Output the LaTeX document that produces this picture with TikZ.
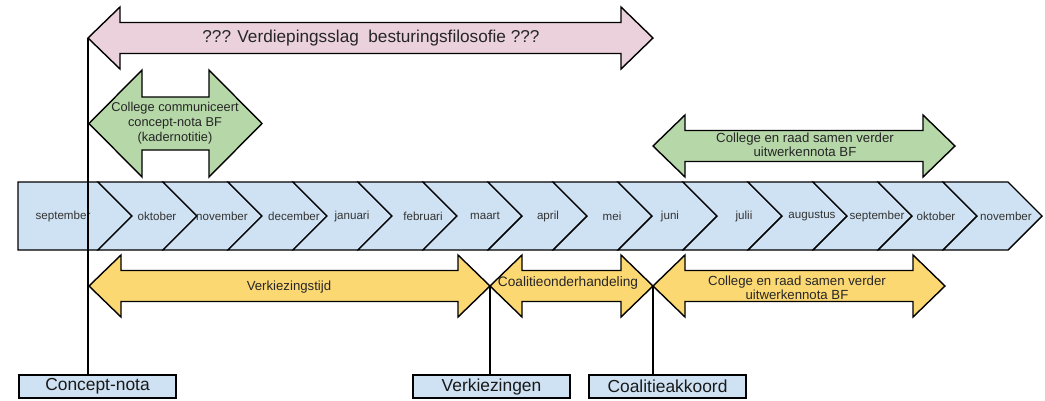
\documentclass[tikz,border=0pt]{standalone}
\usepackage{fontspec}
\setmainfont{Liberation Sans}
\definecolor{pinkf}{HTML}{EAD1DC}
\definecolor{greenf}{HTML}{B6D7A8}
\definecolor{yellowf}{HTML}{FCD873}
\definecolor{bluef}{HTML}{CFE2F3}
\newcommand\darrow[8]{%
  \draw[shapeline,fill=#8] (#2,#4) coordinate (#1-L) -- (#2+#7,#4-#5) -- (#2+#7,#4-#6) -- (#3-#7,#4-#6) -- (#3-#7,#4-#5) -- (#3,#4) coordinate (#1-R) -- (#3-#7,#4+#5) -- (#3-#7,#4+#6) -- (#2+#7,#4+#6) -- (#2+#7,#4+#5) -- cycle;}
\newcommand\monthchev[3]{%
  \draw[shapeline,fill=bluef] (#1,182) -- (#2,182) -- (#2+34,216) -- (#2,250) -- (#1,250) -- (#1+34,216) -- cycle;}
\begin{document}
\begin{tikzpicture}[x=1pt,y=-1pt,
  shapeline/.style={draw=black,line width=1.4pt,line join=miter},
  monthlbl/.style={font=\fontsize{11.6}{13}\selectfont,text=black!80,inner sep=0pt},
  arrowlbl/.style={font=\fontsize{13.2}{14}\selectfont,text=black!85,align=center,inner sep=0pt},
  boxlbl/.style={draw=black,line width=1.4pt,fill=bluef,minimum height=23pt,inner sep=0pt,font=\fontsize{17.4}{19}\selectfont,text=black!90},
  vline/.style={draw=black,line width=1.4pt}]
\useasboundingbox (0,0) rectangle (1045,400);
% top arrows
\darrow{pink}{88}{653}{38}{31}{15.5}{32}{pinkf}
\node[font=\fontsize{17.2}{19}\selectfont,text=black!85,inner sep=0pt] (pinktxt) at (371,38) {??? Verdiepingsslag\ \ besturingsfilosofie ???};
\darrow{gl}{89}{262}{123.5}{53.5}{26.5}{53}{greenf}
\node[arrowlbl,font=\fontsize{12.8}{15}\selectfont] (gltxt) at (175,123) {College communiceert\\concept-nota BF\\(kadernotitie)};
\darrow{gr}{653}{955}{146}{31}{15.5}{32}{greenf}
\node[arrowlbl] (grtxt) at (805,145) {College en raad samen verder\\uitwerkennota BF};
% month strip
\draw[shapeline,fill=bluef] (18,182) -- (98,182) -- (132,216) -- (98,250) -- (18,250) -- cycle;
\foreach \k in {1,...,14}{%
  \pgfmathsetmacro\xa{98+65*(\k-1)}%
  \pgfmathsetmacro\xb{98+65*\k}%
  \monthchev{\xa}{\xb}{}}
\node[monthlbl] (m1) at (63,216) {september};
\node[monthlbl] (m2) at (157,216) {oktober};
\node[monthlbl] (m3) at (222,216) {november};
\node[monthlbl] (m4) at (294,216) {december};
\node[monthlbl] (m5) at (352,216) {januari};
\node[monthlbl] (m6) at (423,216) {februari};
\node[monthlbl] (m7) at (485,216) {maart};
\node[monthlbl] (m8) at (548,216) {april};
\node[monthlbl] (m9) at (612,216) {mei};
\node[monthlbl] (m10) at (670,216) {juni};
\node[monthlbl] (m11) at (744,216) {julii};
\node[monthlbl] (m12) at (812,216) {augustus};
\node[monthlbl] (m13) at (877,216) {september};
\node[monthlbl] (m14) at (936,216) {oktober};
\node[monthlbl] (m15) at (1006,216) {november};
% bottom arrows
\darrow{yv}{89}{490}{286}{31}{15.5}{32}{yellowf}
\node[arrowlbl] (yvtxt) at (289,287) {Verkiezingstijd};
\darrow{yc}{490}{653}{286}{31}{15.5}{32}{yellowf}
\node[arrowlbl,font=\fontsize{13.7}{14}\selectfont] (yctxt) at (568,283) {Coalitieonderhandeling};
\darrow{yr}{653}{945}{286}{31}{15.5}{32}{yellowf}
\node[arrowlbl] (yrtxt) at (797,288) {College en raad samen verder\\uitwerkennota BF};
% boxes
\node[boxlbl,minimum width=157pt] (concept) at (97.5,386.5) {Concept-nota};
\node[boxlbl,minimum width=157pt] (verk) at (491.5,386.5) {Verkiezingen};
\node[boxlbl,minimum width=157pt] (coal) at (667.5,386.5) {Coalitieakkoord};
% connectors
\draw[vline] (pink-L) -- (pink-L |- concept.north);
\draw[vline] (yv-R) -- (yv-R |- verk.north);
\draw[vline] (yr-L) -- (yr-L |- coal.north);
\end{tikzpicture}
\end{document}
